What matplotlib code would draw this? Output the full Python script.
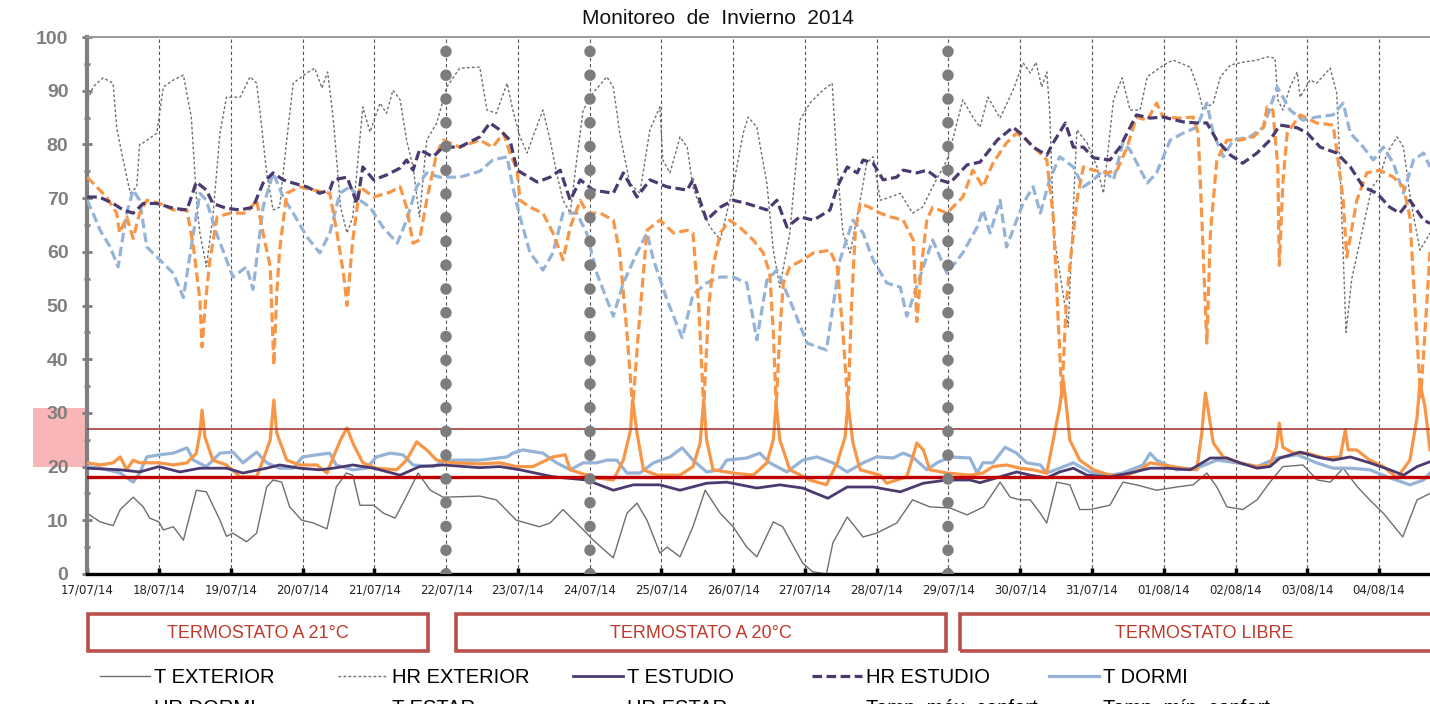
import matplotlib.pyplot as plt
import matplotlib.transforms as mtransforms
from matplotlib.patches import Rectangle
from matplotlib.font_manager import FontProperties

# dias desde el 17/07/14 00:00
fechas = ['17/07/14', '18/07/14', '19/07/14', '20/07/14', '21/07/14', '22/07/14',
          '23/07/14', '24/07/14', '25/07/14', '26/07/14', '27/07/14', '28/07/14',
          '29/07/14', '30/07/14', '31/07/14', '01/08/14', '02/08/14', '03/08/14',
          '04/08/14']
cambios = [5, 7, 12]  # cambios de modo de termostato
tramos = ['TERMOSTATO A 21°C', 'TERMOSTATO A 20°C', 'TERMOSTATO LIBRE']
t_max_confort = 27
t_min_confort = 18

# T EXTERIOR
t_text = [0, 0.18, 0.36, 0.46, 0.64, 0.78, 0.87, 1.0, 1.06, 1.2, 1.34, 1.52, 1.66, 1.85, 1.94,
          2.03, 2.22, 2.36, 2.5, 2.59, 2.71, 2.82, 2.99, 3.15, 3.34, 3.47, 3.61, 3.7, 3.8, 3.99,
          4.13, 4.29, 4.4, 4.61, 4.78, 4.96, 5.47, 5.7, 5.98, 6.3, 6.45, 6.63, 6.87, 7.05, 7.33,
          7.52, 7.66, 7.8, 7.98, 8.08, 8.26, 8.44, 8.61, 8.82, 9.0, 9.19, 9.33, 9.56, 9.69, 9.97,
          10.11, 10.3, 10.39, 10.59, 10.81, 11.0, 11.28, 11.5, 11.74, 12.02, 12.26, 12.49, 12.72,
          12.86, 13.0, 13.14, 13.28, 13.37, 13.51, 13.69, 13.83, 13.97, 14.25, 14.43, 14.62,
          14.9, 15.18, 15.41, 15.6, 15.74, 15.88, 16.1, 16.3, 16.48, 16.66, 16.94, 17.14, 17.32,
          17.5, 17.7, 17.87, 18.06, 18.33, 18.53, 18.71]
v_text = [11.3, 9.7, 9.0, 12, 14.3, 12.5, 10.4, 9.7, 8.2, 8.8, 6.3, 15.6, 15.3, 10, 7,
          7.6, 6, 7.6, 16.2, 17.5, 17.1, 12.5, 10, 9.5, 8.4, 16.2, 18.8, 18.4, 12.8, 12.8,
          11.3, 10.4, 13.2, 18.8, 15.6, 14.3, 14.5, 13.8, 10, 8.8, 9.5, 12, 8.8, 6.3, 3,
          11.3, 13.2, 10, 3.9, 5, 3.2, 8.8, 15.6, 11.3, 8.8, 5, 3.2, 9.7, 8.8, 2,
          0.4, 0, 5.8, 10.6, 6.9, 7.6, 9.5, 13.8, 12.5, 12.3, 11, 12.5, 17.1,
          14.3, 13.8, 13.8, 11.3, 9.5, 17.1, 16.6, 12, 12, 12.8, 17.1, 16.6,
          15.6, 16.2, 16.6, 18.8, 16.2, 12.5, 12, 13.8, 17.1, 20, 20.3, 17.5, 17.1,
          19.7, 16.2, 13.8, 11.3, 6.9, 13.8, 15]

# HR EXTERIOR
t_hrext = [0.01, 0.08, 0.22, 0.36, 0.41, 0.5, 0.6, 0.69, 0.73, 0.78, 0.97, 1.06, 1.2, 1.34,
           1.45, 1.53, 1.57, 1.66, 1.75, 1.85, 1.94, 2.13, 2.27, 2.36, 2.41, 2.5, 2.59, 2.68,
           2.78, 2.87, 3.06, 3.17, 3.27, 3.35, 3.43, 3.53, 3.62, 3.7, 3.84, 3.94, 4.08, 4.17,
           4.26, 4.36, 4.45, 4.54, 4.63, 4.73, 4.87, 5.01, 5.19, 5.47, 5.57, 5.7, 5.85, 5.93,
           6.03, 6.13, 6.21, 6.35, 6.45, 6.54, 6.63, 6.73, 6.82, 6.91, 7.05, 7.24, 7.33, 7.42,
           7.56, 7.7, 7.84, 7.98, 8.02, 8.12, 8.26, 8.36, 8.44, 8.54, 8.68, 8.82, 9.0, 9.14,
           9.21, 9.33, 9.47, 9.56, 9.65, 9.79, 9.93, 10.07, 10.25, 10.38, 10.45, 10.53, 10.63,
           10.77, 10.86, 10.95, 11.05, 11.19, 11.33, 11.5, 11.64, 11.78, 11.98, 12.08, 12.2,
           12.34, 12.44, 12.55, 12.72, 12.9, 13.04, 13.14, 13.22, 13.3, 13.37, 13.41, 13.47,
           13.6, 13.67, 13.72, 13.79, 13.93, 14.07, 14.16, 14.3, 14.42, 14.53, 14.67, 14.77,
           15.0, 15.13, 15.37, 15.47, 15.55, 15.69, 15.79, 15.93, 16.1, 16.3, 16.44, 16.55,
           16.59, 16.66, 16.76, 16.86, 16.9, 17.04, 17.13, 17.32, 17.41, 17.45, 17.54, 17.62,
           17.9, 18.01, 18.11, 18.25, 18.34, 18.44, 18.57, 18.71]
v_hrext = [88.3, 90.7, 92.4, 91.4, 83.2, 77.1, 70.9, 72.1, 80, 80.3, 82.1, 90.7, 92, 92.9,
           85.1, 68.3, 63.5, 57.2, 66.5, 82.1, 88.8, 88.8, 92.6, 91.4, 85.8, 74.7, 67.8, 68.3,
           80.8, 91.4, 93.3, 94.2, 90.5, 93.5, 84.5, 68.3, 63.5, 66.5, 87, 82.3, 87.7, 85.8,
           90.1, 88.3, 80.8, 75.8, 66.5, 80.8, 84, 90.7, 94.2, 94.4, 86.4, 85.8, 91.4, 86.4,
           81.4, 78.4, 81.4, 86.4, 80.8, 74.7, 69.6, 67.2, 77.1, 86.4, 89.6, 92.6, 90.7, 82.1,
           72.8, 70.9, 82.7, 87, 77.1, 74.7, 81.4, 79.5, 72.1, 68.3, 64.6, 62.2, 72.1, 82.1,
           85.1, 83.2, 72.8, 60.3, 53.4, 63.5, 84.5, 87.7, 90.1, 91.4, 75.8, 63.5, 59.8,
           69.6, 76.5, 77.7, 69.6, 70.2, 70.9, 67.2, 68.3, 72.1, 77.1, 82, 88.3,
           85.1, 83.2, 88.8, 84.9, 90.1, 95.2, 93.3, 95.3, 90.7, 93.5, 86.4, 63,
           52, 46, 62, 82.7, 80.3, 75.8, 70.9, 88.3, 92.4, 86.4, 86.4, 92.6,
           94.8, 95.7, 94.4, 90.7, 86.4, 87.7, 92.6, 94.8, 95.3, 95.7, 96.3, 96.1,
           88.3, 86.4, 90.7, 93.5, 88.8, 92, 91.4, 94.2, 89.6, 78, 45, 55,
           72, 73.9, 78.4, 81.4, 79.5, 69.6, 60.3, 63.5]

# T ESTUDIO
t_testu = [0, 0.46, 0.73, 1.0, 1.29, 1.57, 1.94, 2.17, 2.5, 2.68, 2.96, 3.24, 3.43, 3.7, 3.99,
           4.36, 4.63, 4.96, 5.47, 5.75, 6.03, 6.49, 6.96, 7.33, 7.61, 7.98, 8.26, 8.63, 8.91,
           9.33, 9.65, 9.97, 10.32, 10.59, 10.95, 11.33, 11.65, 11.98, 12.3, 12.44, 12.72,
           12.95, 13.14, 13.37, 13.55, 13.74, 13.93, 14.25, 14.53, 14.81, 15.04, 15.37, 15.65,
           15.88, 16.06, 16.3, 16.48, 16.62, 16.9, 17.13, 17.36, 17.6, 17.87, 18.15, 18.34,
           18.53, 18.71]
v_testu = [19.7, 19.4, 19, 20, 19, 19.7, 19.7, 18.8, 19.7, 20.3, 19.7, 19.4, 19.7, 20.3, 19.7,
           18.4, 20, 20.3, 19.8, 20, 19.4, 18.1, 17.5, 15.6, 16.6, 16.6, 15.6, 16.9, 17.1,
           16, 16.6, 16, 14.1, 16.2, 16.2, 15.3, 16.9, 17.5, 17.5, 17, 18.1,
           19, 18.4, 17.9, 19, 19.7, 18.4, 18.1, 18.8, 19.7, 19.7, 19.4, 21.6,
           21.6, 20.7, 19.7, 20, 21.6, 22.7, 21.8, 21.2, 21.8, 20.7, 19.4, 18.4,
           20, 20.9]

# HR ESTUDIO
t_hrestu = [0, 0.17, 0.36, 0.5, 0.64, 0.78, 0.97, 1.2, 1.39, 1.52, 1.66, 1.75, 1.94, 2.13,
            2.31, 2.45, 2.59, 2.73, 2.87, 3.06, 3.24, 3.38, 3.43, 3.62, 3.76, 3.84, 3.99, 4.17,
            4.36, 4.45, 4.54, 4.63, 4.82, 4.96, 5.19, 5.47, 5.61, 5.75, 5.89, 5.99, 6.27, 6.45,
            6.59, 6.73, 6.87, 7.05, 7.33, 7.47, 7.66, 7.84, 8.08, 8.36, 8.44, 8.63, 8.82, 9.0,
            9.19, 9.47, 9.61, 9.75, 9.93, 10.12, 10.35, 10.45, 10.59, 10.73, 10.81, 10.95,
            11.09, 11.28, 11.37, 11.56, 11.7, 11.88, 12.02, 12.26, 12.44, 12.68, 12.9, 13.0,
            13.18, 13.37, 13.46, 13.63, 13.74, 13.88, 14.02, 14.25, 14.39, 14.62, 14.81, 14.99,
            15.27, 15.46, 15.6, 15.74, 15.93, 16.1, 16.3, 16.48, 16.62, 16.86, 17.0, 17.18,
            17.41, 17.6, 17.78, 17.97, 18.15, 18.29, 18.43, 18.62, 18.71]
v_hrestu = [70.2, 70.2, 69, 67.8, 67.2, 69, 69, 68.1, 67.8, 73, 71.5, 69, 68.1, 67.8,
            68.3, 72.8, 74.7, 73.4, 72.8, 72.1, 70.9, 71.5, 73.4, 73.9, 69, 75.8, 73.4, 74.3,
            75.6, 77.1, 75.2, 79, 77.7, 79.5, 79.5, 81.4, 84, 82.7, 80.8, 75.2, 73, 73.9,
            75.2, 69.6, 73.4, 71.5, 70.9, 74.7, 70.2, 73.4, 72.1, 71.5, 73.4, 65.9, 68.3, 69.6,
            69, 67.8, 69.6, 64.6, 66.5, 65.9, 67.8, 72.1, 75.8, 74.7, 77.1, 76.5,
            73.4, 73.9, 75.2, 74.7, 75.2, 73.4, 72.8, 76.2, 76.7, 80.8, 83.2, 82.1,
            79.5, 78, 80.3, 84, 79.5, 79.5, 77.5, 77.1, 79.5, 85.5, 84.9, 85.1,
            84.2, 84, 84, 80.8, 78, 76.5, 78.4, 80.8, 83.6, 83.1, 82.1, 79.5,
            78.4, 75.8, 72.1, 70.9, 68.3, 67.2, 69.6, 65.9, 65.3]

# T DORMI
t_tdormi = [0, 0.18, 0.46, 0.64, 0.73, 0.83, 1.01, 1.2, 1.39, 1.48, 1.66, 1.85, 2.03, 2.17,
            2.36, 2.5, 2.68, 2.87, 3.0, 3.2, 3.38, 3.47, 3.7, 3.89, 4.03, 4.22, 4.4, 4.54,
            4.82, 5.01, 5.47, 5.85, 5.93, 6.07, 6.35, 6.54, 6.73, 6.91, 7.1, 7.24, 7.38, 7.52,
            7.7, 7.89, 8.12, 8.29, 8.44, 8.63, 8.82, 8.91, 9.19, 9.37, 9.51, 9.75, 9.97, 10.17,
            10.39, 10.59, 10.81, 11.0, 11.23, 11.37, 11.5, 11.7, 11.84, 12.02, 12.3, 12.4,
            12.48, 12.62, 12.79, 12.95, 13.09, 13.28, 13.37, 13.55, 13.74, 13.97, 14.25, 14.43,
            14.71, 14.81, 14.9, 15.18, 15.46, 15.74, 16.02, 16.3, 16.58, 16.86, 17.13, 17.36,
            17.6, 17.87, 18.15, 18.43, 18.62, 18.71]
v_tdormi = [20, 19.7, 18.8, 17.1, 18.8, 21.8, 22.2, 22.5, 23.5, 21.2, 20, 22.5, 22.7, 20.7,
            22.7, 20.7, 19.7, 19.7, 21.8, 22.2, 22.5, 20.3, 19.4, 19.7, 21.8, 22.5, 22.2, 20.3,
            20, 21.2, 21.2, 21.8, 22.5, 23.1, 22.5, 20.7, 19.4, 20.7, 20.7, 21.2, 21.2, 18.8,
            18.8, 20.7, 21.8, 23.5, 21.2, 19, 19.4, 21.2, 21.6, 22.5, 20.7, 19, 21.2, 21.8,
            20.7, 19, 20.7, 21.8, 21.6, 22.5, 21.8, 19.4, 20.7, 21.8, 21.6, 18.8,
            20.7, 20.7, 23.6, 22.5, 20.7, 20.3, 18.8, 19.7, 20.7, 19, 18.4, 18.8,
            20.3, 22.5, 21.2, 19.4, 19.7, 21.2, 20.7, 20, 21.6, 22.2, 20.7, 19.7,
            19.7, 19.4, 17.9, 16.6, 17.5, 18.8]

# HR DORMI
t_hrdormi = [0, 0.08, 0.18, 0.32, 0.43, 0.55, 0.64, 0.73, 0.83, 1.01, 1.2, 1.34, 1.48, 1.57,
             1.66, 1.8, 1.94, 2.03, 2.22, 2.31, 2.45, 2.59, 2.73, 2.87, 3.06, 3.24, 3.38, 3.52,
             3.66, 3.8, 3.94, 4.12, 4.32, 4.45, 4.59, 4.73, 4.91, 5.19, 5.47, 5.65, 5.85, 5.93,
             6.03, 6.17, 6.35, 6.49, 6.63, 6.82, 6.96, 7.1, 7.33, 7.47, 7.66, 7.8, 7.89, 8.08,
             8.29, 8.44, 8.63, 8.82, 9.0, 9.19, 9.33, 9.47, 9.61, 9.79, 10.03, 10.3, 10.49,
             10.67, 10.81, 10.95, 11.14, 11.33, 11.42, 11.65, 11.78, 11.98, 12.2, 12.4, 12.48,
             12.58, 12.72, 12.81, 12.95, 13.04, 13.18, 13.28, 13.41, 13.55, 13.74, 13.88, 14.02,
             14.16, 14.3, 14.43, 14.53, 14.77, 14.9, 15.09, 15.27, 15.46, 15.6, 15.69, 15.83,
             15.97, 16.2, 16.39, 16.58, 16.66, 16.76, 16.94, 17.13, 17.36, 17.5, 17.6, 17.78,
             17.92, 18.06, 18.2, 18.34, 18.48, 18.62, 18.71]
v_hrdormi = [69.6, 67.2, 64, 60.9, 57.2, 67.2, 71.5, 69.6, 60.9, 58.5, 56, 51.5, 63.5, 70.9,
             69.6, 63.5, 58.5, 55.3, 57.2, 53, 68.3, 74.7, 70.2, 67.2, 62.8, 59.8, 63.5, 70.9,
             72.1, 69.6, 68.3, 64.6, 61.6, 65.9, 72.1, 74.7, 73.9, 73.9, 75, 77.1, 77.7, 72.1,
             66.5, 59.8, 56.6, 59.8, 67.2, 67.2, 63.5, 56, 48, 54.2, 59.8, 63.5, 58.5, 51,
             44, 52, 54.2, 55.3, 55.3, 54.2, 43.6, 54.7, 56.6, 51, 43, 41.7, 58.5,
             65.9, 63.5, 58.5, 54.2, 53.4, 48, 57.2, 62.2, 56, 59.8, 64.6, 67.8,
             63.5, 69.6, 60.9, 65.9, 69, 72.1, 67.2, 73.4, 77.7, 75.8, 72.1, 73.4,
             75.2, 73.4, 80.3, 79, 72.8, 74.7, 80.8, 82.1, 83.2, 87.7, 82.1, 77.7,
             80.8, 81.4, 83.2, 90.7, 88.8, 86.4, 84.5, 85.1, 85.5, 87.7, 82.1, 79.5,
             77.1, 79.5, 76.5, 70.9, 77.1, 78.4, 75.8]

# T ESTAR
t_testar = [0, 0.18, 0.36, 0.46, 0.55, 0.64, 0.73, 1.0, 1.2, 1.39, 1.52, 1.57, 1.6, 1.64,
            1.75, 1.94, 2.13, 2.36, 2.45, 2.55, 2.6, 2.64, 2.78, 2.96, 3.2, 3.34, 3.43, 3.53,
            3.62, 3.7, 3.84, 4.03, 4.31, 4.45, 4.59, 4.73, 4.87, 5.1, 5.47, 5.75, 5.98, 6.21,
            6.49, 6.66, 6.73, 6.87, 7.1, 7.33, 7.47, 7.57, 7.6, 7.66, 7.75, 7.94, 8.26, 8.44,
            8.54, 8.59, 8.63, 8.72, 9.0, 9.28, 9.47, 9.56, 9.6, 9.65, 9.79, 10.07, 10.3, 10.45,
            10.56, 10.6, 10.67, 10.77, 11.05, 11.14, 11.42, 11.56, 11.65, 11.74, 11.98, 12.3,
            12.48, 12.62, 12.81, 13.0, 13.18, 13.37, 13.46, 13.55, 13.6, 13.65, 13.69, 13.83,
            14.02, 14.25, 14.49, 14.67, 14.81, 14.99, 15.27, 15.46, 15.53, 15.58, 15.62, 15.69,
            15.83, 16.06, 16.3, 16.48, 16.57, 16.61, 16.66, 16.81, 17.0, 17.23, 17.46, 17.53,
            17.57, 17.69, 17.87, 18.06, 18.25, 18.43, 18.53, 18.57, 18.64, 18.71]
v_testar = [20.7, 20.3, 20.7, 21.8, 19.4, 21.2, 20.7, 20.7, 20.3, 20.7, 22.5, 26.3, 30.5, 25.5,
            21.2, 20.3, 18.1, 18.1, 21.2, 25, 32.4, 26.3, 21.2, 20.3, 20.3, 18.8, 21.8, 25,
            27.2, 24.4, 20.7, 19.7, 19.4, 21.2, 24.6, 23.1, 21.2, 20.7, 20.5, 20.7, 20, 20,
            21.8, 22.2, 19.4, 18.8, 17.9, 17.5, 21.2, 26.8, 32.4, 26.3, 19.4, 18.4, 18.4, 20,
            24.4, 32.4, 25, 19.4, 18.8, 18.4, 20.7, 25, 31.8, 25, 19.4, 17.5, 16.6, 20.7,
            25.5, 31.8, 24.4, 19.4, 18.4, 16.9, 18.1, 24.4, 23.1, 19.4, 18.8, 18.4,
            18.8, 20, 20.3, 19.7, 19.4, 18.8, 25, 31.1, 36.1, 30.5, 25, 21.2,
            19.4, 18.4, 18.4, 19.4, 20.7, 20.3, 19.7, 19.4, 26.3, 33.7, 30.5, 24.4,
            21.8, 20.7, 20, 20.3, 23.6, 28.1, 23.6, 22.5, 22.5, 21.6, 21.8, 26.8,
            23.1, 23.1, 21.2, 20, 17.9, 21.2, 29.2, 35.6, 31.1, 23.1]

# HR ESTAR
t_hrestar = [0, 0.13, 0.27, 0.41, 0.45, 0.55, 0.64, 0.73, 0.83, 1.01, 1.2, 1.39, 1.48, 1.57,
             1.6, 1.65, 1.71, 1.81, 1.99, 2.22, 2.36, 2.45, 2.55, 2.6, 2.64, 2.68, 2.78, 2.96,
             3.15, 3.38, 3.48, 3.57, 3.62, 3.7, 3.8, 3.99, 4.22, 4.36, 4.45, 4.54, 4.63, 4.73,
             4.87, 4.96, 5.19, 5.47, 5.65, 5.8, 5.89, 5.99, 6.03, 6.17, 6.35, 6.49, 6.63, 6.73,
             6.87, 6.97, 7.15, 7.33, 7.42, 7.52, 7.6, 7.68, 7.8, 7.98, 8.17, 8.36, 8.44, 8.52,
             8.59, 8.66, 8.72, 8.82, 8.95, 9.09, 9.28, 9.42, 9.51, 9.56, 9.6, 9.65, 9.7, 9.79,
             9.97, 10.12, 10.35, 10.45, 10.53, 10.6, 10.65, 10.7, 10.77, 10.9, 11.05, 11.19,
             11.37, 11.51, 11.56, 11.62, 11.7, 11.78, 11.98, 12.2, 12.34, 12.48, 12.62, 12.81,
             12.95, 13.09, 13.23, 13.37, 13.46, 13.52, 13.58, 13.64, 13.69, 13.79, 13.88, 14.02,
             14.21, 14.35, 14.49, 14.62, 14.77, 14.9, 14.99, 15.23, 15.41, 15.48, 15.53, 15.6,
             15.65, 15.74, 15.88, 16.06, 16.25, 16.39, 16.44, 16.52, 16.59, 16.61, 16.66, 16.72,
             16.9, 17.13, 17.36, 17.41, 17.5, 17.55, 17.69, 17.83, 18.01, 18.2, 18.34, 18.43,
             18.5, 18.58, 18.64, 18.71]
v_hrestar = [73.9, 72.1, 70.2, 67.2, 63.5, 66.5, 62.5, 67.2, 69.6, 69, 67.8, 67.8, 60.9, 51,
             42.3, 51, 58.5, 66.5, 67.2, 67.2, 69.6, 63.5, 57.2, 38.9, 52, 60.3, 70.9, 72.1,
             71.5, 70.9, 63.5, 56, 50, 62.2, 72.1, 70.2, 71.1, 72.1, 68.3, 61.6, 62.2, 69.6,
             78.4, 80.8, 79.5, 80.8, 79.5, 82.1, 78.4, 75.2, 69.6, 68.3, 67.2, 63.5, 58.5, 64.6,
             69.6, 67.2, 67.2, 65.9, 59.8, 45, 31, 45, 64, 65.9, 63.5, 64, 63.5, 50,
             31, 50, 57.2, 63.5, 65.9, 64.6, 62.2, 59.8, 56, 45, 31, 45, 54.2, 57.2,
             58.5, 59.8, 60.3, 57.2, 45, 31, 50, 63.5, 69, 68.3, 67.2, 66.5,
             65.9, 62.2, 47, 57, 66, 68.3, 67.2, 70.2, 75.2, 72.1, 76.5, 80.3,
             82.1, 80.8, 79, 77.1, 66.5, 50, 33, 50, 57.2, 69.6, 75.8, 75.2,
             74.7, 75.2, 79.5, 85.1, 84.5, 87.7, 85.1, 84.9, 85.1, 82.1, 66.5, 43,
             63.5, 77.1, 80.8, 80.8, 81.4, 83.2, 87, 86.4, 75.8, 57.5, 72.8, 82.1,
             85.5, 84, 83.6, 79, 69.6, 59, 69.6, 74.7, 75.2, 73.9, 72.1, 66.5,
             50, 33, 45, 60]

gris = '#7f7f7f'
naranja = '#f79646'
azul = '#95b3d7'
morado = '#4a3a70'
rojo_txt = '#c0392b'
guion = (0, (3, 1.4))

fig = plt.figure(figsize=(14.3, 7.04), dpi=100)
ax = fig.add_axes([0.061, 0.1847, 0.939, 0.7627])

# lineas de dia y cambios de termostato
for d in range(1, len(fechas)):
    ax.axvline(d, color='#555555', lw=0.8, ls=(0, (3, 2.5)), zorder=1)
for c in cambios:
    ax.axvline(c, color='#7d7d7d', lw=8.3, ls=(0, (0.01, 2.05)),
               dash_capstyle='round', zorder=6)

l_text, = ax.plot(t_text, v_text, color='#6e6e6e', lw=1.0, label='T EXTERIOR', zorder=2)
l_hrext, = ax.plot(t_hrext, v_hrext, color='#707070', lw=1.0, ls=(0, (2, 1.6)),
                   label='HR EXTERIOR', zorder=2)
l_hrdormi, = ax.plot(t_hrdormi, v_hrdormi, color=azul, lw=2.3, ls=guion, label='HR DORMI', zorder=3)
l_tdormi, = ax.plot(t_tdormi, v_tdormi, color=azul, lw=2.3, label='T DORMI', zorder=3)
l_hrestar, = ax.plot(t_hrestar, v_hrestar, color=naranja, lw=2.3, ls=guion, label='HR ESTAR', zorder=3)
l_testar, = ax.plot(t_testar, v_testar, color=naranja, lw=2.3, label='T ESTAR', zorder=4)
l_hrestu, = ax.plot(t_hrestu, v_hrestu, color=morado, lw=2.3, ls=guion, label='HR ESTUDIO', zorder=4)
l_testu, = ax.plot(t_testu, v_testu, color=morado, lw=2.0, label='T ESTUDIO', zorder=4)
l_max = ax.axhline(t_max_confort, color='#9e2a2b', lw=1.1, label='Temp. máx. confort', zorder=5)
l_min = ax.axhline(t_min_confort, color='#c00000', lw=2.4, label='Temp. mín. confort', zorder=5)

# franja rosa junto al eje
trans = mtransforms.blended_transform_factory(ax.transAxes, ax.transData)
ax.add_patch(Rectangle((-0.0405, 20), 0.039, 11, transform=trans, clip_on=False,
                       facecolor='#f8b6b9', edgecolor='none', zorder=0))

ax.set_xlim(0, 18.71)
ax.set_ylim(0, 100)
ax.set_xticks(range(len(fechas)))
ax.set_xticklabels(fechas)
ax.set_yticks(range(0, 101, 10))
ax.set_yticks(range(5, 100, 10), minor=True)
ax.tick_params(axis='x', direction='in', length=4, width=2.5, color='black', pad=7,
               labelsize=8.5, labelcolor='#222222')
ax.tick_params(axis='y', which='major', direction='inout', length=7, width=2, color=gris,
               pad=10, labelsize=14, labelcolor='#7f7f7f')
ax.tick_params(axis='y', which='minor', direction='inout', length=5, width=2, color=gris)
for lab in ax.get_yticklabels():
    lab.set_fontweight('bold')
    lab.set_family('Liberation Sans')

ax.spines['right'].set_visible(False)
ax.spines['left'].set_color(gris)
ax.spines['left'].set_linewidth(3)
ax.spines['bottom'].set_color('black')
ax.spines['bottom'].set_linewidth(2.4)
ax.spines['top'].set_color('#9a9a9a')
ax.spines['top'].set_linewidth(1.4)

fig.text(0.502, 1 - 18 / 704, 'Monitoreo  de  Invierno  2014', ha='center', va='center',
         fontsize=15, family='Liberation Sans', color='#111111')

# cajas de los tramos del termostato
cajas = [(88, 428, 258), (456, 946, 701), (960, 1450, 1204)]
for (x0, x1, xc), texto in zip(cajas, tramos):
    fig.add_artist(Rectangle((x0 / 1430, (704 - 651) / 704), (x1 - x0) / 1430, 37 / 704,
                             transform=fig.transFigure, fill=False, edgecolor='#b9504c', lw=2.6))
    fig.text(xc / 1430, (704 - 633) / 704, texto, ha='center', va='center',
             fontsize=13, family='Liberation Sans', color=rojo_txt)

# leyenda en cinco columnas (la segunda fila queda cortada, como en el original)
fila1 = [l_text, l_hrext, l_testu, l_hrestu, l_tdormi]
fila2 = [l_hrdormi, l_testar, l_hrestar, l_max, l_min]
xs_leg = [100, 338, 573, 812, 1049]
prop = FontProperties(family='Liberation Sans', size=14.5)
for h1, h2, xl in zip(fila1, fila2, xs_leg):
    fig.legend(handles=[h1, h2], loc='upper left', bbox_to_anchor=(xl / 1430, (704 - 668) / 704),
               frameon=False, prop=prop, borderpad=0, borderaxespad=0, handlelength=2.5,
               handletextpad=0.2, labelspacing=0.6)

fig.savefig('out.png', dpi=100)
